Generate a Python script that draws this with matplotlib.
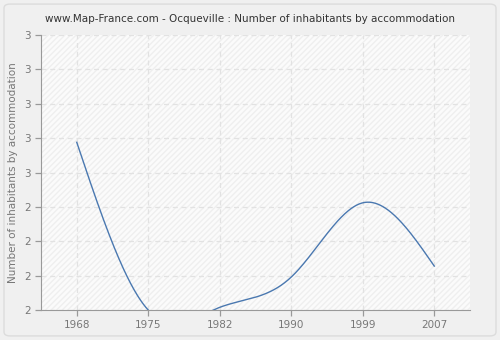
import numpy as np
import matplotlib
matplotlib.use("Agg")
import matplotlib.pyplot as plt
from matplotlib.patches import FancyBboxPatch

years = ["1968", "1975", "1982", "1990", "1999", "2007"]
values = [2.61, 2.0, 2.01, 2.12, 2.39, 2.16]
y_ticks = [2.0, 2.125, 2.25, 2.375, 2.5, 2.625, 2.75, 2.875, 3.0]
title = "www.Map-France.com - Ocqueville : Number of inhabitants by accommodation"
ylabel = "Number of inhabitants by accommodation"


def natural_spline(x, y, xs):
    x = np.asarray(x, float); y = np.asarray(y, float)
    n = len(x)
    h = np.diff(x)
    A = np.zeros((n, n)); b = np.zeros(n)
    A[0, 0] = 1; A[-1, -1] = 1
    for i in range(1, n - 1):
        A[i, i - 1] = h[i - 1]
        A[i, i] = 2 * (h[i - 1] + h[i])
        A[i, i + 1] = h[i]
        b[i] = 3 * ((y[i + 1] - y[i]) / h[i] - (y[i] - y[i - 1]) / h[i - 1])
    c = np.linalg.solve(A, b)
    out = np.empty_like(xs)
    for k, t in enumerate(xs):
        i = min(max(np.searchsorted(x, t) - 1, 0), n - 2)
        bi = (y[i + 1] - y[i]) / h[i] - h[i] * (2 * c[i] + c[i + 1]) / 3
        di = (c[i + 1] - c[i]) / (3 * h[i])
        dt = t - x[i]
        out[k] = y[i] + bi * dt + c[i] * dt ** 2 + di * dt ** 3
    return out


fig = plt.figure(figsize=(5, 3.4), dpi=100)
fig.patch.set_facecolor("#f0f0f0")
fig.patches.append(FancyBboxPatch((0.008, 0.012), 0.984, 0.976, boxstyle="round,pad=0,rounding_size=0.012",
                                  transform=fig.transFigure, facecolor="#f0f0f0",
                                  edgecolor="#dcdcdc", linewidth=1.0, zorder=-10))

ax = fig.add_axes([0.082, 0.088, 0.858, 0.809])
ax.set_zorder(1)
ax.set_facecolor("#fbfbfb")
ax.patch.set_hatch("//////")
ax.patch.set_edgecolor("#efefef")
ax.patch.set_linewidth(0)

xi = np.arange(len(years))
xs = np.linspace(0, len(years) - 1, 400)
ys = natural_spline(xi, values, xs)
ax.plot(xs, ys, color="#4a78b0", linewidth=1.0, zorder=3)

ax.set_xlim(-0.5, 5.5)
ax.set_ylim(2.0, 3.0)
ax.set_xticks(xi)
ax.set_xticklabels(years)
ax.set_yticks(y_ticks)
ax.set_yticklabels([str(int(np.floor(v + 0.5))) for v in y_ticks])
ax.grid(True, color="#e2e2e2", linestyle=(0, (4, 3)), linewidth=0.9)
ax.set_axisbelow(True)
for s in ["top", "right"]:
    ax.spines[s].set_visible(False)
for s in ["left", "bottom"]:
    ax.spines[s].set_color("#999999")
ax.tick_params(colors="#999999", labelcolor="#777777", labelsize=7.5, length=4, width=0.9)
ax.set_ylabel(ylabel, color="#777777", fontsize=7.5, labelpad=4)
fig.text(0.5, 0.945, title, ha="center", va="center", fontsize=7.5, color="#333333")

fig.savefig("out.png", dpi=100, facecolor=fig.get_facecolor())
